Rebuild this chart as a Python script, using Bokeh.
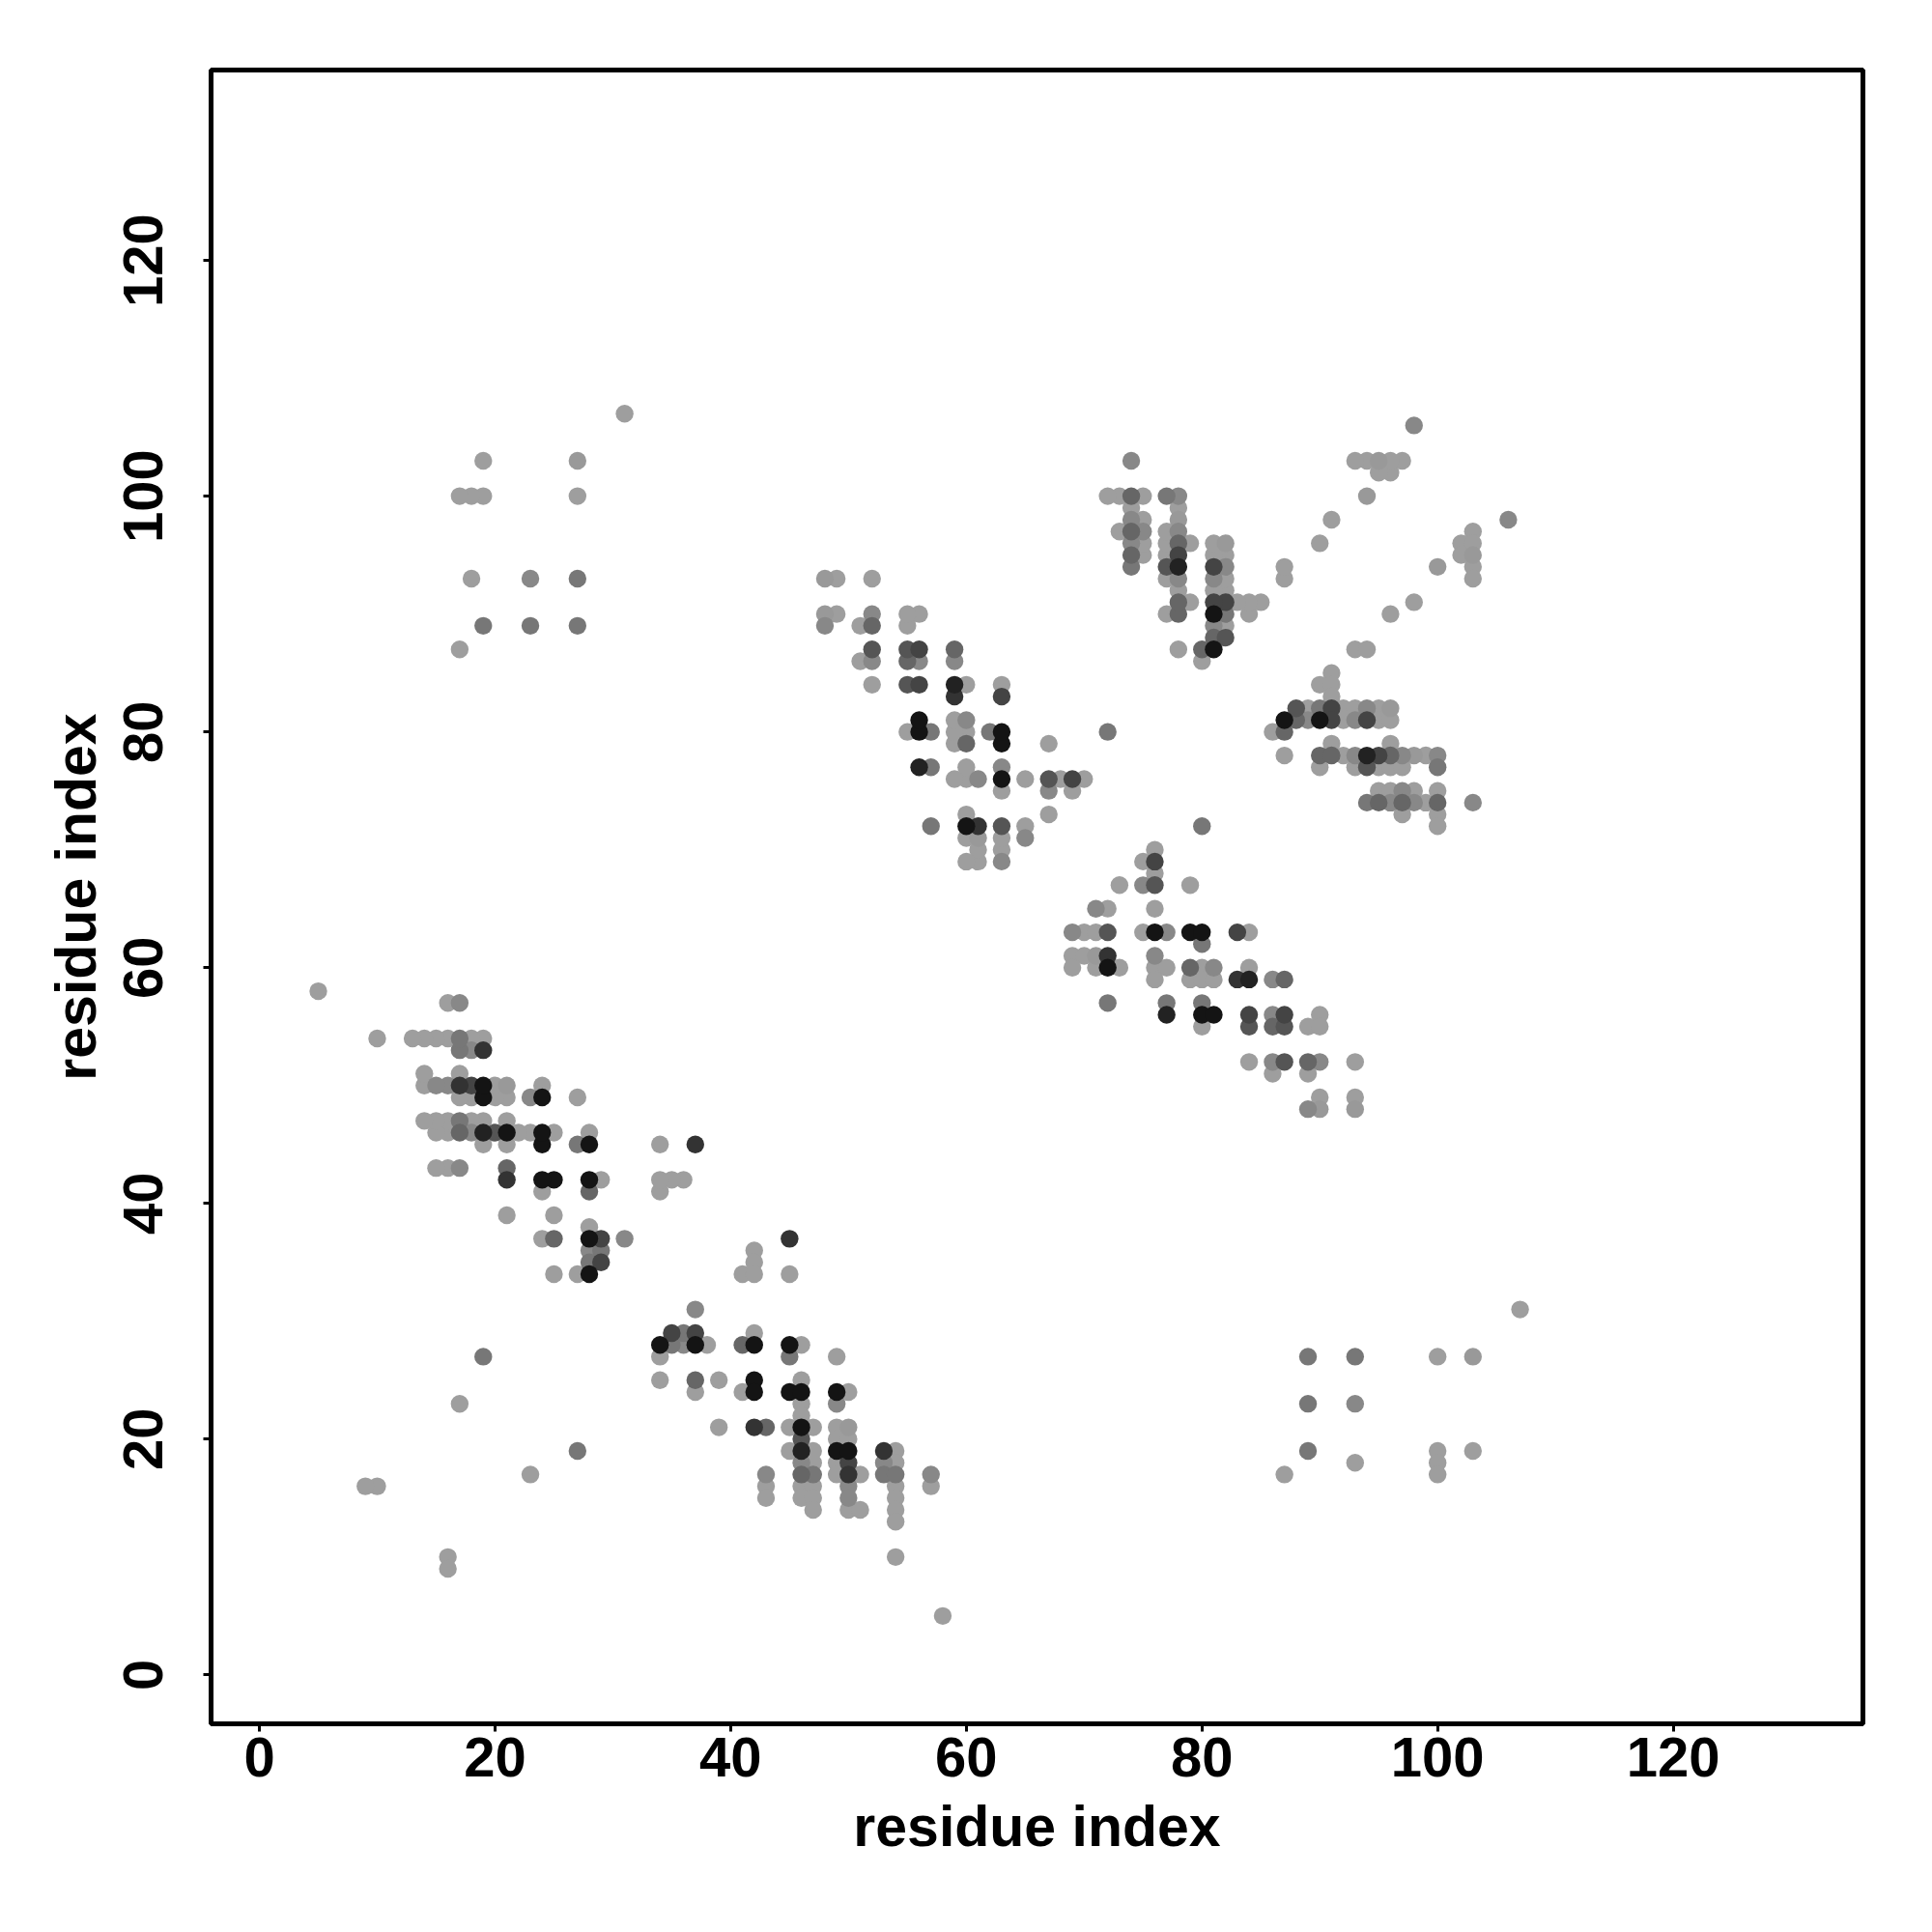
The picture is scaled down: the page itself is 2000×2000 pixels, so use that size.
import numpy as np
from bokeh.plotting import figure
from bokeh.models import Range1d, FixedTicker, ColumnDataSource
from bokeh.embed import file_html
from bokeh.resources import INLINE

# Contact map (symmetric). Lower-triangle contacts (i > j);
# grey = grey level of the dot (0 = black, 158 = light grey).
L = 158

# --- block 1: residues ~34-58 vs ~5-37
A_i = [45,
       42,
       42,
       41, 42, 45,
       37,
       35, 36, 37, 42,
       34, 35, 36, 37, 38, 41, 42, 45, 46,
       34, 45, 49,
       34, 37, 39, 42, 46,
       37, 41, 42, 45, 46, 49, 50,
       46, 49,
       46,
       39, 42, 43, 45, 46, 47, 49, 50,
       46, 49, 50,
       45, 46, 47, 49, 50, 53, 54,
       46, 47, 49, 50, 53, 54,
       43, 46, 47, 49, 50, 51, 53, 54, 57,
       43, 46, 47, 50, 54, 57,
       43, 46, 47, 50, 54,
       47, 50, 51, 54,
       54,
       54,
       58]
A_j = [37,
       36,
       35,
       34, 34, 34,
       31,
       29, 29, 29, 29,
       28, 28, 28, 28, 28, 28, 28, 28, 28,
       27, 27, 27,
       25, 25, 25, 25, 25,
       24, 24, 24, 24, 24, 24, 24,
       23, 23,
       22,
       21, 21, 21, 21, 21, 21, 21, 21,
       20, 20, 20,
       19, 19, 19, 19, 19, 19, 19,
       18, 18, 18, 18, 18, 18,
       17, 17, 17, 17, 17, 17, 17, 17, 17,
       16, 16, 16, 16, 16, 16,
       15, 15, 15, 15, 15,
       14, 14, 14, 14,
       13,
       10,
       5]
A_g = [51,
       L,
       L,
       L, L, L,
       136,
       68, 119, 68, L,
       20, 119, 136, 20, L, 102, 20, 20, L,
       L, 119, L,
       L, 102, L, 20, L,
       L, L, 20, 20, 20, 20, L,
       L, 136,
       L,
       L, 51, 102, L, 20, L, L, 153,
       85, L, L,
       L, 34, L, 20, 20, 51, L,
       136, L, L, 68, 136, L,
       136, 102, 119, L, 51, L, 119, 119, 136,
       L, L, L, 136, L, L,
       L, L, L, 136, L,
       L, L, L, L,
       L,
       L,
       L]

# --- block 2: residues ~69-93 vs ~48-72
B_i = [80,
       76,
       75, 76,
       76,
       73, 75, 76, 79,
       71, 72, 76,
       69, 70, 71, 72, 75, 76, 77, 79, 80, 83, 84,
       80,
       69, 70, 71, 72, 76,
       69, 71, 72, 73, 76, 77, 79, 80, 81, 84,
       76, 79, 80, 81, 83, 84, 86, 87,
       72, 77, 80,
       77, 80, 81, 84, 86, 87, 90,
       80, 84, 86, 87, 89, 90,
       84, 86, 87, 89, 90, 93,
       86, 89,
       90, 93,
       89, 90, 93]
B_j = [72,
       70,
       69, 69,
       68,
       67, 67, 67, 67,
       65, 65, 65,
       63, 63, 63, 63, 63, 63, 63, 63, 63, 63, 63,
       62,
       61, 61, 61, 61, 61,
       60, 60, 60, 60, 60, 60, 60, 60, 60, 60,
       59, 59, 59, 59, 59, 59, 59, 59,
       57, 57, 57,
       56, 56, 56, 56, 56, 56, 56,
       55, 55, 55, 55, 55, 55,
       52, 52, 52, 52, 52, 52,
       51, 51,
       49, 49,
       48, 48, 48]
B_g = [119,
       L,
       L, 68,
       L,
       L, 136, 85, L,
       136, L, L,
       136, L, L, 85, L, 20, 136, 20, 20, 68, L,
       119,
       L, L, 153, 51, 136,
       L, L, 20, L, L, L, 102, L, 136, L,
       L, L, L, L, 51, 34, 136, 102,
       119, 119, 119,
       34, 20, 20, 68, 136, 68, L,
       L, 85, 102, 85, L, L,
       L, 136, 85, 102, 136, L,
       L, L,
       L, L,
       136, 153, 153]

# --- block 3: residues ~86-106 vs ~72-98
C_i = [106,
       103,
       102, 103,
       102, 103,
       100, 103,
       103,
       98,
       96,
       93, 94,
       91,
       90, 91,
       91,
       88, 89, 90, 91, 92, 93, 94, 95, 96,
       87, 88, 89, 90, 91, 92, 93, 94, 95, 96,
       86, 87,
       91, 96,
       87, 90, 91, 92, 93, 94, 95, 96, 97, 98, 99, 100,
       90, 93, 94, 95, 96, 97, 100,
       95, 96, 97, 98, 100,
       94, 95, 96, 97, 98, 99, 100, 103,
       97, 100,
       100]
C_j = [98,
       97,
       96, 96,
       95, 95,
       94, 94,
       93,
       91,
       90,
       87, 87,
       85,
       84, 84,
       83,
       82, 82, 82, 82, 82, 82, 82, 82, 82,
       81, 81, 81, 81, 81, 81, 81, 81, 81, 81,
       80, 80,
       79, 79,
       78, 78, 78, 78, 78, 78, 78, 78, 78, 78, 78, 78,
       77, 77, 77, 77, 77, 77, 77,
       75, 75, 75, 75, 75,
       74, 74, 74, 74, 74, 74, 74, 74,
       73, 73,
       72]
C_g = [136,
       L,
       L, L,
       L, 153,
       153, L,
       L,
       L,
       L,
       L, L,
       L,
       L, L,
       L,
       85, L, 119, 68, L, L, 136, L, 153,
       20, 102, 136, 20, 68, L, 136, 68, L, L,
       L, 102,
       L, L,
       L, 102, 102, L, 136, 34, 68, 102, 136, 153, L, 136,
       L, L, 85, L, L, L, 119,
       L, L, 136, L, L,
       119, 102, 136, 102, 136, L, 102, 136,
       L, L,
       L]

# --- isolated long-range contacts
D_i = [107, 89, 93, 100, 103, 89, 93, 89, 100, 103, 93, 100, 87, 100, 23, 27, 16, 16]
D_j = [31, 27, 27, 27, 27, 23, 23, 19, 19, 19, 18, 18, 17, 17, 17, 19, 10, 9]
D_g = [L, 119, 119, L, 153, 119, 136, 119, L, L, L, L, L, L, L, 119, L, L]

ticks = [0, 20, 40, 60, 80, 100, 120]
axis_title = "residue index"

low_i = A_i + B_i + C_i + D_i
low_j = A_j + B_j + C_j + D_j
low_g = A_g + B_g + C_g + D_g

xs = np.array(low_i + low_j)
ys = np.array(low_j + low_i)
gs = np.array(low_g + low_g)
order = np.argsort(-gs, kind="stable")  # light first, dark on top
xs, ys, gs = xs[order], ys[order], gs[order]
colors = ["#%02x%02x%02x" % (g, g, g) for g in gs]
src = ColumnDataSource(dict(x=xs, y=ys, color=colors))

p = figure(width=1984, height=1984, output_backend="svg", toolbar_location=None,
           x_range=Range1d(-4.1, 136.1), y_range=Range1d(-4.15, 136.15),
           min_border_left=218, min_border_right=56, min_border_top=72,
           min_border_bottom=200,
           background_fill_color="white", border_fill_color="white")
p.outline_line_color = "black"
p.outline_line_width = 5
p.xgrid.visible = False
p.ygrid.visible = False

p.scatter("x", "y", source=src, size=18.4, fill_color="color", line_color=None)

for ax in (p.xaxis[0], p.yaxis[0]):
    ax.ticker = FixedTicker(ticks=ticks)
    ax.axis_line_color = None
    ax.major_tick_in = 0
    ax.major_tick_out = 8
    ax.major_tick_line_width = 3
    ax.major_tick_line_color = "black"
    ax.minor_tick_line_color = None
    ax.major_label_text_font = "Liberation Sans"
    ax.major_label_text_font_style = "bold"
    ax.major_label_text_font_size = "58px"
    ax.major_label_text_color = "black"
    ax.axis_label = axis_title
    ax.axis_label_text_font = "Liberation Sans"
    ax.axis_label_text_font_style = "bold"
    ax.axis_label_text_font_size = "59px"
    ax.axis_label_text_color = "black"

p.xaxis.major_label_standoff = 6
p.xaxis.axis_label_standoff = 16
p.yaxis.major_label_orientation = "parallel"
p.yaxis.major_label_standoff = 42
p.yaxis.axis_label_standoff = 14

open("out.html", "w").write(file_html(p, INLINE))
